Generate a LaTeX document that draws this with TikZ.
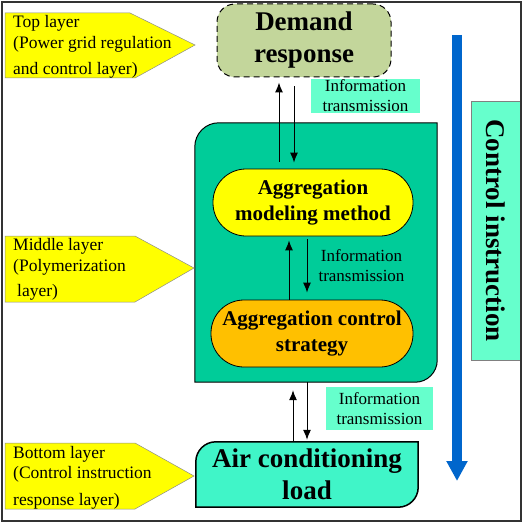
\documentclass[tikz,border=0pt]{standalone}
\usepackage{fontspec}
\setmainfont{Liberation Serif}
\usetikzlibrary{arrows.meta,backgrounds}
\definecolor{drfill}{HTML}{C3D69B}
\definecolor{midfill}{HTML}{00CC99}
\definecolor{infofill}{HTML}{66FFCC}
\definecolor{acfill}{HTML}{40F5C8}
\definecolor{ylw}{HTML}{FFFF00}
\definecolor{org}{HTML}{FFC000}
\definecolor{blu}{HTML}{0066CC}
\tikzset{
  bigtxt/.style={font=\fontsize{27}{32}\selectfont\bfseries, align=center, inner sep=0pt},
  medtxt/.style={font=\fontsize{21}{25.5}\selectfont\bfseries, align=center, inner sep=0pt},
  infotxt/.style={font=\fontsize{17}{20}\selectfont, align=center, inner sep=0pt},
  infobox/.style={infotxt, fill=infofill},
  lab/.style={font=\fontsize{17.5}{21}\selectfont, align=left, inner sep=0pt, anchor=west},
  labshape/.style={fill=ylw, draw=black!45, line width=0.5pt},
  arr/.style={-{Latex[length=10pt,width=8pt]}, line width=1pt},
  stadium/.style={medtxt, draw=black, line width=0.8pt, rounded corners=33pt, minimum width=200pt, minimum height=67pt},
}
\begin{document}
\begin{tikzpicture}[x=1pt,y=1pt]
\useasboundingbox (0,0) rectangle (526,523);

% layer labels
\path[labshape] (5,510) -- (130,510) -- (195,478) -- (135,445) -- (5,445) -- cycle;
\node[lab] (toplab) at (13,476.6) {Top layer\\(Power grid regulation\\[5pt]and control layer)};

\path[labshape] (5,287) -- (135,287) -- (194,255) -- (135,221) -- (5,221) -- cycle;
\node[lab] (midlab) at (13,254) {Middle layer\\(Polymerization\\[4pt]\hspace*{4pt}layer)};

\path[labshape] (5,80) -- (135,80) -- (194,47) -- (135,14) -- (5,14) -- cycle;
\node[lab] (botlab) at (13,45.5) {Bottom layer\\[-1pt](Control instruction\\[6pt]response layer)};

% top
\node[bigtxt, draw=black, dash pattern=on 6pt off 4pt, line width=1pt, fill=drfill, rounded corners=18pt,
      minimum width=174pt, minimum height=73pt] (dr) at (304,482.5) {Demand\\response};

% middle container
\node[minimum width=242pt, minimum height=259pt, inner sep=0pt] (mid) at (316,270.5) {};
\begin{scope}[on background layer]
\path[fill=midfill, draw=black, line width=1pt]
  ([yshift=-24pt]mid.north west) arc[start angle=180, end angle=90, radius=24pt]
  -- (mid.north east)
  -- ([yshift=22pt]mid.south east) arc[start angle=0, end angle=-90, radius=22pt]
  -- (mid.south west) -- cycle;
\end{scope}

\node[stadium, fill=ylw] (amm) at (313,320.5) {Aggregation\\modeling method};
\node[stadium, fill=org, minimum width=202pt] (acs) at (312,189.5) {Aggregation control\\strategy};

% bottom
\node[bigtxt, minimum width=222pt, minimum height=65pt] (ac) at (307,48.5) {Air conditioning\\load};
\begin{scope}[on background layer]
\path[fill=acfill, draw=black, line width=1.5pt]
  ([yshift=-20pt]ac.north west) arc[start angle=180, end angle=90, radius=20pt]
  -- (ac.north east)
  -- ([yshift=20pt]ac.south east) arc[start angle=0, end angle=-90, radius=20pt]
  -- (ac.south west) -- cycle;
\end{scope}

% information labels
\node[infobox, minimum width=109pt, minimum height=34pt] (i1) at (365.5,427) {Information\\transmission};
\node[infotxt] (i2) at (361.5,257) {Information\\transmission};
\node[infobox, minimum width=107pt, minimum height=43pt] (i3) at (379.5,114.5) {Information\\transmission};

% arrows
\draw[arr, shorten <=7pt, shorten >=5pt] ([xshift=-34pt]amm.north) -- ([xshift=-34pt]amm.north |- dr.south);
\draw[arr, shorten <=9pt, shorten >=6pt] ([xshift=-19pt]amm.north |- dr.south) -- ([xshift=-19pt]amm.north);
\draw[arr, shorten >=4pt] ([xshift=-23pt]acs.north) -- ([xshift=-23pt]acs.north |- amm.south);
\draw[arr, shorten <=3pt, shorten >=7pt] ([xshift=-5pt]acs.north |- amm.south) -- ([xshift=-5pt]acs.north);
\draw[arr, shorten >=8pt] ([xshift=-14pt]ac.north) -- ([xshift=-14pt]ac.north |- mid.south);
\draw[arr, shorten >=2pt] (ac.north |- mid.south) -- (ac.north);

% control instruction
\coordinate (bt) at (457,488);
\coordinate (bb) at (457,42);
\draw[blu, line width=10pt, -{Triangle[length=20pt,width=20pt]}] (bt) -- (bb);
\node[bigtxt, rotate=-90, fill=infofill, draw=black!50, line width=0.6pt,
      minimum width=259pt, minimum height=50pt] (ci) at (496,292.5) {Control instruction};

% frame
\draw[line width=1.3pt, black!80] (2,2) rectangle (521,521);
\end{tikzpicture}
\end{document}
